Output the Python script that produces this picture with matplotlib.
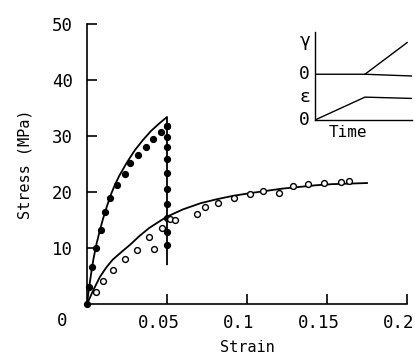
import matplotlib
matplotlib.use("Agg")
import matplotlib.pyplot as plt
import matplotlib.transforms as mtransforms

plt.rcParams["font.family"] = ["DejaVu Sans Mono", "DejaVu Sans"]

# loading test (filled): stress rises to 0.05 strain, then relaxes
fast_strain = [0.0, 0.001, 0.003, 0.0056, 0.0085, 0.0113, 0.0144, 0.0188, 0.024,
               0.027, 0.032, 0.037, 0.041, 0.046, 0.050]
fast_stress = [0.0, 3.0, 6.6, 10.0, 13.2, 16.4, 19.0, 21.3, 23.2,
               25.2, 26.6, 28.0, 29.5, 30.7, 31.8]
relax_strain = [0.050] * 10
relax_stress = [31.8, 29.8, 28.0, 25.9, 23.4, 20.5, 17.9, 15.4, 12.9, 10.5]

fast_fit_strain = [0.0, 0.001, 0.002, 0.003, 0.004, 0.006, 0.008, 0.010, 0.0125,
                   0.015, 0.0175, 0.020, 0.025, 0.030, 0.035, 0.040, 0.045,
                   0.050, 0.050]
fast_fit_stress = [0.0, 2.3, 4.3, 6.2, 8.0, 10.8, 13.1, 15.2, 17.5,
                   19.6, 21.3, 22.8, 25.3, 27.5, 29.3, 30.9, 32.2,
                   33.4, 7.1]

# slow test (open circles)
slow_strain = [0.0056, 0.010, 0.0165, 0.024, 0.031, 0.039, 0.042, 0.047, 0.052,
               0.055, 0.069, 0.074, 0.082, 0.092, 0.102, 0.110, 0.120, 0.129,
               0.138, 0.148, 0.159, 0.164]
slow_stress = [2.1, 4.1, 6.1, 8.0, 9.6, 12.0, 9.8, 13.6, 15.2,
               15.0, 16.1, 17.3, 18.0, 18.9, 19.6, 20.2, 19.8, 21.1,
               21.4, 21.6, 21.8, 22.0]
slow_fit_strain = [0.0, 0.004, 0.008, 0.012, 0.016, 0.022, 0.027, 0.033, 0.039,
                   0.045, 0.050, 0.060, 0.071, 0.081, 0.091, 0.102, 0.112,
                   0.122, 0.1325, 0.143, 0.153, 0.164, 0.175]
slow_fit_stress = [0.0, 2.5, 4.8, 6.5, 7.9, 9.4, 10.6, 12.2, 13.6,
                   14.7, 15.6, 16.9, 18.0, 18.7, 19.3, 19.8, 20.2,
                   20.6, 20.9, 21.2, 21.4, 21.5, 21.6]

# inset: strain history sketch
t_pts = [0.0, 0.515, 1.0]
gamma_pts = [0.52, 0.52, 0.50]
gamma_ramp_t = [0.515, 0.95]
gamma_ramp = [0.52, 0.88]
eps_pts = [0.0, 0.26, 0.245]

xticks = [0.05, 0.1, 0.15, 0.2]
xtick_labels = ["0.05", "0.1", "0.15", "0.2"]
yticks = [10, 20, 30, 40, 50]

W, H = 415, 359
fig = plt.figure(figsize=(W / 100, H / 100), dpi=100)
ax = fig.add_axes([87 / W, 1 - 304 / H, 320 / W, 280 / H])

lw = 1.3
ax.plot(fast_fit_strain, fast_fit_stress, color="black", lw=lw)
ax.plot(slow_fit_strain, slow_fit_stress, color="black", lw=lw)
ax.plot(fast_strain, fast_stress, "o", color="black", ms=4.2, clip_on=False)
ax.plot(relax_strain, relax_stress, "o", color="black", ms=4.2)
ax.plot(slow_strain, slow_stress, "o", mfc="white", mec="black", mew=1.0, ms=4.2)

ax.set_xlim(0, 0.2)
ax.set_ylim(0, 50)
ax.set_xticks(xticks)
ax.set_xticklabels(xtick_labels)
ax.set_yticks(yticks)
ax.spines["top"].set_visible(False)
ax.spines["right"].set_visible(False)
ax.spines["left"].set_linewidth(1.2)
ax.spines["bottom"].set_linewidth(1.2)
ax.tick_params(axis="both", direction="in", length=7, width=1.2, labelsize=12.5)
ax.tick_params(axis="y", pad=10)
ax.tick_params(axis="x", pad=7)
# labels in the original sit a little left of their ticks
shift = mtransforms.ScaledTranslation(-8 / 100, 0, fig.dpi_scale_trans)
for lab in ax.get_xticklabels():
    lab.set_transform(lab.get_transform() + shift)
ax.annotate("0", xy=(0, 0), xytext=(-14, -12), textcoords="offset points",
            ha="right", va="center", fontsize=12.5)
ax.set_xlabel("Strain", fontsize=11, labelpad=6)
ax.set_ylabel("Stress (MPa)", fontsize=11, labelpad=14)

# inset
axi = fig.add_axes([315 / W, 1 - 120 / H, 97 / W, 88 / H])
axi.plot(t_pts, gamma_pts, color="black", lw=1.0)
axi.plot(gamma_ramp_t, gamma_ramp, color="black", lw=1.0)
axi.plot(t_pts, eps_pts, color="black", lw=1.0)
axi.set_xlim(0, 1)
axi.set_ylim(0, 1)
axi.set_xticks([])
axi.set_yticks([])
axi.spines["top"].set_visible(False)
axi.spines["right"].set_visible(False)
axi.spines["left"].set_linewidth(1.0)
axi.spines["bottom"].set_linewidth(1.0)
axi.patch.set_alpha(0)
fs = 13
axi.text(-0.05, 0.90, "γ", ha="right", va="center", fontsize=fs, transform=axi.transAxes)
axi.text(-0.05, 0.52, "0", ha="right", va="center", fontsize=fs, transform=axi.transAxes)
axi.text(-0.05, 0.26, "ε", ha="right", va="center", fontsize=fs, transform=axi.transAxes)
axi.text(-0.05, 0.0, "0", ha="right", va="center", fontsize=fs, transform=axi.transAxes)
axi.text(0.34, -0.06, "Time", ha="center", va="top", fontsize=11.5, transform=axi.transAxes)

fig.savefig("out.png", dpi=100)
